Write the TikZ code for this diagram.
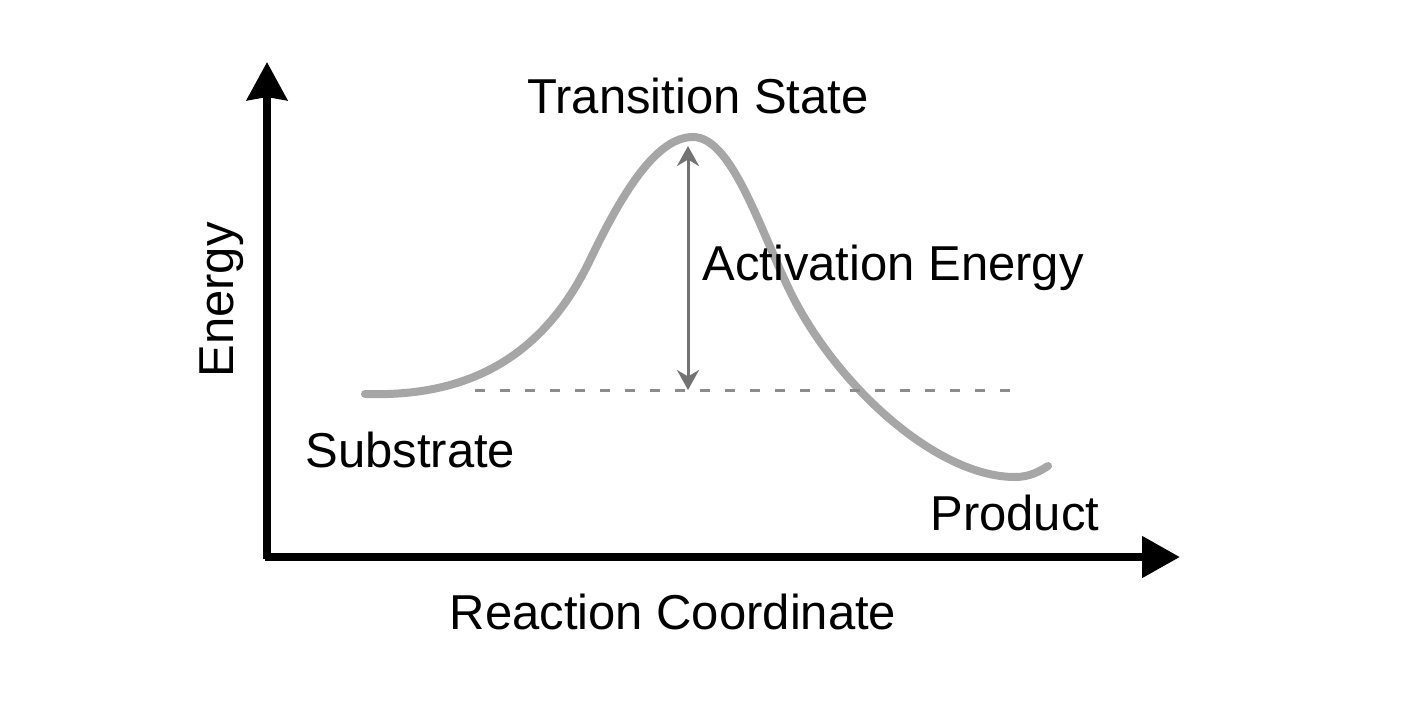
\documentclass[tikz,border=0pt]{standalone}
\usepackage{fontspec}
\setmainfont{Liberation Sans}
\usetikzlibrary{arrows.meta}
\begin{document}
\begin{tikzpicture}[x=0.5pt,y=-0.5pt,
  lbl/.style={font=\fontsize{24.5pt}{28pt}\selectfont, inner sep=0pt},
  axis/.style={line width=4pt},
  curve/.style={line width=4pt, color=black!35, line cap=round},
  dashline/.style={line width=1.5pt, color=black!45, dash pattern=on 5pt off 7.5pt},
  aeline/.style={line width=1.5pt, color=black!55, {Stealth[length=10pt,width=11pt]}-{Stealth[length=10pt,width=11pt]}}]
\useasboundingbox (0,0) rectangle (1417,708);
\coordinate (o) at (267,557);
\coordinate (ytop) at (267,62);
\coordinate (xend) at (1180,557);
\draw[axis,-{Stealth[length=19pt,width=20pt,inset=1.5pt]}] (267,559) -- (ytop);
\draw[axis,-{Triangle[length=19pt,width=20pt]}] (265,557) -- (xend);
\coordinate (cA) at (365,394);
\coordinate (cB) at (590,260);
\coordinate (cC) at (693,137);
\coordinate (cD) at (787,285);
\coordinate (cE) at (1015,477);
\coordinate (cF) at (1048,466);
\draw[curve] (cA) .. controls (460,397) and (540,364) .. (cB)
  .. controls (625,187) and (658,137) .. (cC)
  .. controls (730,137) and (757,220.5) .. (cD)
  .. controls (832,381.75) and (935,477) .. (cE)
  .. controls (1030,477) and (1040,471) .. (cF);
\coordinate (dl) at (475,390);
\coordinate (dr) at (1010,390);
\draw[dashline] (dl) -- (dr);
\coordinate (aetop) at (688,146);
\coordinate (aebot) at (688,390);
\draw[aeline] (aebot) -- (aetop);
\node[lbl] (ts) at (698,96) {Transition State};
\node[lbl,anchor=west] (ae) at (702,268) {Activation Energy};
\node[lbl,anchor=west] (sub) at (305,450) {Substrate};
\node[lbl,anchor=west] (prod) at (930,513) {Product};
\node[lbl] (rc) at (673,612) {Reaction Coordinate};
\node[lbl,rotate=90] (en) at (222,300) {Energy};
\end{tikzpicture}
\end{document}
